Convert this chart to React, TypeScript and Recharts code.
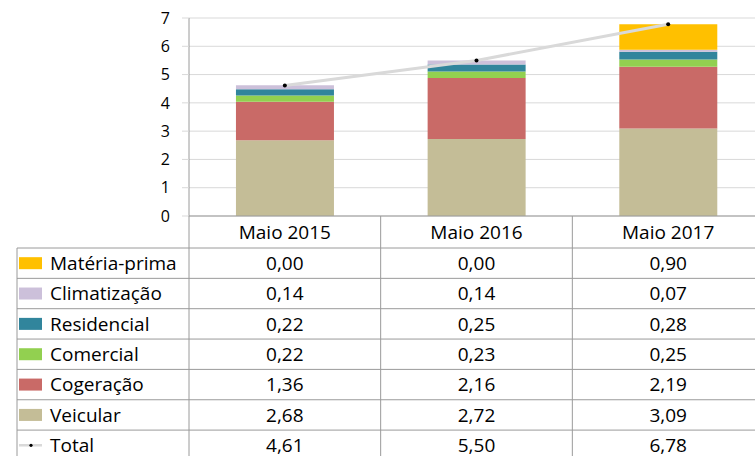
import React from 'react';
import { ComposedChart, Bar, Line, XAxis, YAxis, CartesianGrid } from 'recharts';

const CATEGORIES = ['Maio 2015', 'Maio 2016', 'Maio 2017'];
const VEICULAR = [2.68, 2.72, 3.09];
const COGERACAO = [1.36, 2.16, 2.19];
const COMERCIAL = [0.22, 0.23, 0.25];
const RESIDENCIAL = [0.22, 0.25, 0.28];
const CLIMATIZACAO = [0.14, 0.14, 0.07];
const MATERIA_PRIMA = [0.0, 0.0, 0.9];
const TOTAL = [4.61, 5.5, 6.78];
const Y_TICKS = [0, 1, 2, 3, 4, 5, 6, 7];

// table order, top to bottom (stack order is the reverse)
const SERIES = [
  { key: 'materiaPrima', name: 'Matéria-prima', color: '#ffc000', values: MATERIA_PRIMA },
  { key: 'climatizacao', name: 'Climatização', color: '#ccc0da', values: CLIMATIZACAO },
  { key: 'residencial', name: 'Residencial', color: '#31859c', values: RESIDENCIAL },
  { key: 'comercial', name: 'Comercial', color: '#92d050', values: COMERCIAL },
  { key: 'cogeracao', name: 'Cogeração', color: '#c96a67', values: COGERACAO },
  { key: 'veicular', name: 'Veicular', color: '#c4bd97', values: VEICULAR },
];

const FONT = "'Open Sans', sans-serif";
const GRID = '#d9d9d9';
const BORDER = '#9a9a9a';
const HEADER_H = 32;
const ROW_H = 30.35;
const TABLE_LEFT = 17;

const data = CATEGORIES.map((c, i) => {
  const row: Record<string, any> = { name: c, total: TOTAL[i] };
  SERIES.forEach((s) => {
    row[s.key] = s.values[i];
  });
  return row;
});

const fmt = (v: number) => v.toFixed(2).replace('.', ',');

const rows = [
  ...SERIES.map((s) => ({ name: s.name, color: s.color, values: s.values, isLine: false })),
  { name: 'Total', color: GRID, values: TOTAL, isLine: true },
];

function TableTick(props: any) {
  const { x, y, payload, index } = props;
  const half = payload?.offset || 95.8;
  const left = x - half;
  const right = x + half;
  const bottom = y + HEADER_H + ROW_H * rows.length;

  return (
    <g>
      <line x1={right} y1={y} x2={right} y2={bottom} stroke={BORDER} />
      {index === 0 && <line x1={left} y1={y} x2={left} y2={bottom} stroke={BORDER} />}
      {rows.map((_, r) => (
        <line
          key={r}
          x1={index === 0 ? TABLE_LEFT : left}
          y1={y + HEADER_H + ROW_H * r}
          x2={right}
          y2={y + HEADER_H + ROW_H * r}
          stroke={BORDER}
        />
      ))}
      <text x={x} y={y + HEADER_H / 2} dy="0.35em" textAnchor="middle" fontSize={19} fontFamily={FONT} fill="#000">
        {payload.value}
      </text>
      {rows.map((row, r) => (
        <text
          key={row.name}
          x={x}
          y={y + HEADER_H + ROW_H * r + ROW_H / 2}
          dy="0.35em"
          textAnchor="middle"
          fontSize={19}
          fontFamily={FONT}
          fill="#000"
        >
          {fmt(row.values[index])}
        </text>
      ))}
      {index === 0 && (
        <g>
          <line x1={TABLE_LEFT} y1={y + HEADER_H} x2={TABLE_LEFT} y2={bottom} stroke={BORDER} />
          {rows.map((row, r) => {
            const cy = y + HEADER_H + ROW_H * r + ROW_H / 2;
            return (
              <g key={row.name}>
                {row.isLine ? (
                  <g>
                    <line x1={19} y1={cy} x2={42} y2={cy} stroke={GRID} strokeWidth={2.5} />
                    <circle cx={31} cy={cy} r={1.6} fill="#000" />
                  </g>
                ) : (
                  <rect x={19} y={cy - 6} width={23} height={12} fill={row.color} />
                )}
                <text x={50} y={cy} dy="0.35em" fontSize={19} fontFamily={FONT} fill="#000">
                  {row.name}
                </text>
              </g>
            );
          })}
        </g>
      )}
    </g>
  );
}

export default function App() {
  const stack = [...SERIES].reverse();
  return (
    <div style={{ position: 'absolute', left: 0, top: 0, width: 755, height: 456, overflow: 'hidden', background: '#fff' }}>
      <ComposedChart
        width={765}
        height={456}
        data={data}
        margin={{ top: 18, right: 1, left: 0, bottom: 0 }}
        barCategoryGap="24.5%"
      >
        <CartesianGrid vertical={false} stroke={GRID} />
        <XAxis
          dataKey="name"
          height={240}
          interval={0}
          tickLine={false}
          tickSize={0}
          tickMargin={0}
          axisLine={{ stroke: BORDER }}
          tick={(p: any) => <TableTick {...p} />}
        />
        <YAxis
          width={189}
          domain={[0, 7]}
          ticks={Y_TICKS}
          tickSize={7}
          tickMargin={12}
          axisLine={{ stroke: BORDER }}
          tickLine={{ stroke: GRID }}
          tick={{ fill: '#000', fontSize: 16, fontFamily: FONT }}
        />
        {stack.map((s) => (
          <Bar key={s.key} dataKey={s.key} stackId="a" fill={s.color} isAnimationActive={false} />
        ))}
        <Line
          type="linear"
          dataKey="total"
          stroke={GRID}
          strokeWidth={3}
          dot={{ r: 2, fill: '#000', stroke: 'none' }}
          isAnimationActive={false}
        />
      </ComposedChart>
    </div>
  );
}
